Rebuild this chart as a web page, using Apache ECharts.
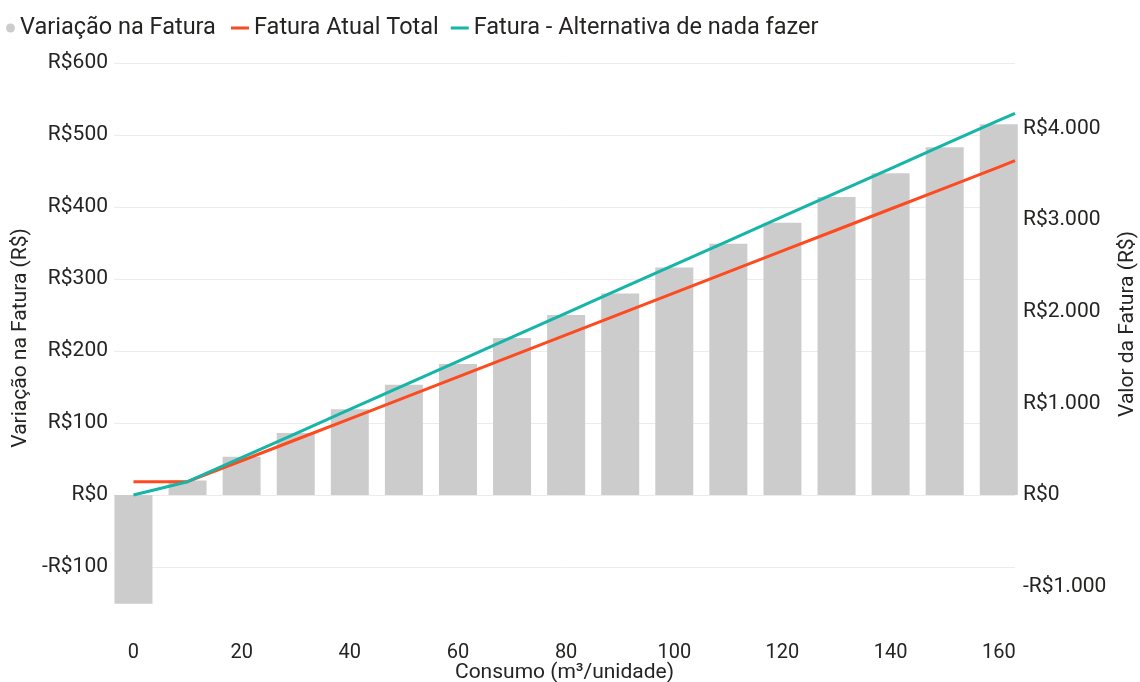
<!DOCTYPE html>
<html>
<head>
<meta charset="utf-8">
<script src="https://cdn.jsdelivr.net/npm/echarts@6/dist/echarts.min.js"></script>
<style>
  html, body { margin: 0; padding: 0; background: #ffffff; }
  #chart { width: 1140px; height: 682px; }
</style>
</head>
<body>
<div id="chart"></div>
<script>
// Consumo por unidade (m³) e variação da fatura em cada faixa
const consumo = [0, 10, 20, 30, 40, 50, 60, 70, 80, 90, 100, 110, 120, 130, 140, 150, 160];
const variacaoFatura = [-151, 20, 53, 86, 119, 153, 182, 218, 250, 280, 316, 349, 378, 414, 447, 483, 515];

// Curvas do valor da fatura (eixo direito)
const consumoCurvas = [0, 10, 20, 30, 40, 50, 60, 70, 80, 90, 100, 110, 120, 130, 140, 150, 160, 163];
const faturaAtualTotal = [145, 145, 374, 603, 832, 1061, 1290, 1519, 1748, 1977, 2206, 2435, 2664, 2893, 3122, 3351, 3580, 3650];
const faturaAlternativa = [0, 145, 408, 671, 934, 1197, 1460, 1723, 1986, 2249, 2512, 2775, 3038, 3301, 3564, 3827, 4090, 4167];

// Rótulos dos eixos
const xTicks = [0, 20, 40, 60, 80, 100, 120, 140, 160];
const leftTicks = [-100, 0, 100, 200, 300, 400, 500, 600];
const rightTicks = [-1000, 0, 1000, 2000, 3000, 4000];

const SERIES_BARRA = 'Variação na Fatura';
const SERIES_ATUAL = 'Fatura Atual Total';
const SERIES_ALT = 'Fatura - Alternativa de nada fazer';

const LEFT_MIN = -200, LEFT_MAX = 600;
const RIGHT_PER_LEFT = 7.86; // mantém o zero dos dois eixos alinhado

const TEXT = '#252423';
const FONT = 'Roboto';

function reais(v) {
  const abs = Math.abs(Math.round(v));
  const s = String(abs).replace(/\B(?=(\d{3})+(?!\d))/g, '.');
  return (v < 0 ? '-R$' : 'R$') + s;
}

const chart = echarts.init(document.getElementById('chart'), null, { renderer: 'canvas' });

chart.setOption({
  backgroundColor: '#ffffff',
  animation: false,
  textStyle: { fontFamily: FONT },
  legend: [
    {
      data: [{ name: SERIES_BARRA, icon: 'circle' }],
      left: 1, top: 11,
      itemWidth: 9, itemHeight: 9,
      textStyle: { color: TEXT, fontSize: 23.5, fontFamily: FONT }
    },
    {
      data: [{ name: SERIES_ATUAL, icon: 'rect' }, { name: SERIES_ALT, icon: 'rect' }],
      left: 226, top: 11,
      itemWidth: 18, itemHeight: 3, itemGap: 12,
      textStyle: { color: TEXT, fontSize: 23.5, fontFamily: FONT }
    }
  ],
  grid: { left: 114, right: 125, top: 63, bottom: 43, containLabel: false, outerBoundsMode: 'none' },
  xAxis: {
    type: 'value',
    min: -3.6, max: 163,
    name: 'Consumo (m³/unidade)',
    nameLocation: 'middle',
    nameGap: 23,
    nameMoveOverlap: false,
    nameTextStyle: { color: TEXT, fontSize: 21, fontFamily: FONT },
    axisLine: { show: false },
    axisTick: { show: false },
    splitLine: { show: false },
    axisLabel: { customValues: xTicks, color: TEXT, fontSize: 20, margin: 4 }
  },
  yAxis: [
    {
      type: 'value',
      min: LEFT_MIN, max: LEFT_MAX, interval: 100,
      name: 'Variação na Fatura (R$)',
      nameLocation: 'middle', nameRotate: 90, nameGap: 78,
      nameTextStyle: { color: TEXT, fontSize: 21, fontFamily: FONT, padding: [0, 0, 0, 26] },
      axisLine: { show: false },
      axisTick: { show: false, customValues: leftTicks },
      axisLabel: { customValues: leftTicks, formatter: reais, color: TEXT, fontSize: 21, margin: 6 },
      splitLine: { show: true, lineStyle: { color: '#ececec', width: 1 } }
    },
    {
      type: 'value',
      min: LEFT_MIN * RIGHT_PER_LEFT, max: LEFT_MAX * RIGHT_PER_LEFT,
      name: 'Valor da Fatura (R$)',
      nameLocation: 'middle', nameRotate: 90, nameGap: 102,
      nameTextStyle: { color: TEXT, fontSize: 21, fontFamily: FONT, padding: [0, 0, 0, 54] },
      axisLine: { show: false },
      axisTick: { show: false, customValues: rightTicks },
      axisLabel: { customValues: rightTicks, formatter: reais, color: TEXT, fontSize: 21, margin: 8 },
      splitLine: { show: false }
    }
  ],
  series: [
    {
      name: SERIES_BARRA,
      type: 'bar',
      yAxisIndex: 0,
      barWidth: 38,
      itemStyle: { color: '#cccccc' },
      data: consumo.map((c, i) => [c, variacaoFatura[i]])
    },
    {
      name: SERIES_ATUAL,
      type: 'line',
      yAxisIndex: 1,
      symbol: 'none',
      lineStyle: { color: '#fd4a1f', width: 3 },
      itemStyle: { color: '#fd4a1f' },
      data: consumoCurvas.map((c, i) => [c, faturaAtualTotal[i]])
    },
    {
      name: SERIES_ALT,
      type: 'line',
      yAxisIndex: 1,
      symbol: 'none',
      lineStyle: { color: '#15b5a7', width: 3 },
      itemStyle: { color: '#15b5a7' },
      data: consumoCurvas.map((c, i) => [c, faturaAlternativa[i]])
    }
  ]
});
</script>
</body>
</html>
